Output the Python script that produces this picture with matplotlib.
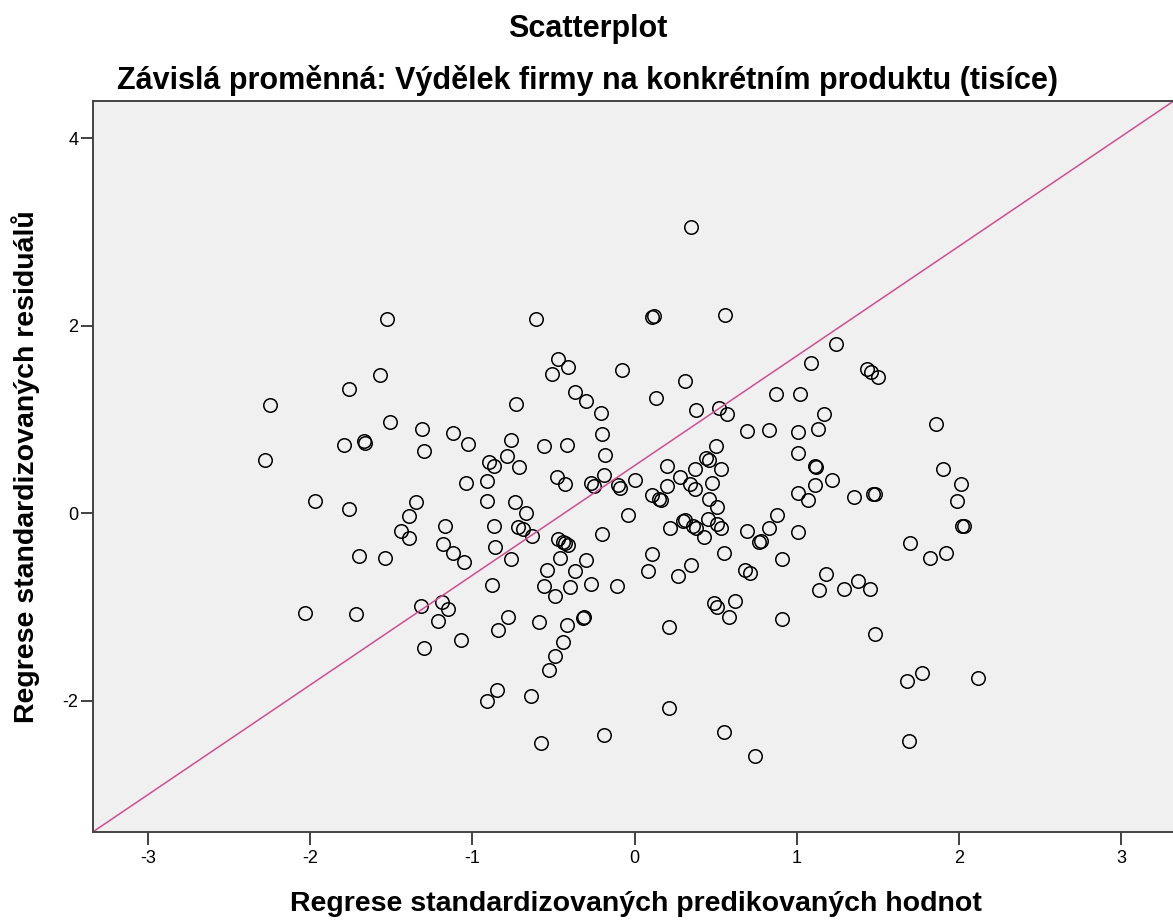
import matplotlib
matplotlib.use("Agg")
import matplotlib.pyplot as plt

matplotlib.rcParams["font.family"] = ["Liberation Sans", "DejaVu Sans"]
matplotlib.rcParams["axes.unicode_minus"] = False

# standardized predicted values (x) and standardized residuals (y)
pred_std = [
    -1.53, -0.61, -1.57, -1.76, -2.25, -0.73, -1.51, -1.31, -1.12, -1.03,
    -0.76, -1.79, -1.67, -1.66, -1.30, -2.28, -0.90, -0.87, -0.79, -0.71,
    -0.91, -1.04, -1.97, -1.76, -1.35, -0.91, -0.74,
    0.35, 0.12, 0.11, 0.56, 1.24, 1.09, -0.47, -0.41, -0.51, -0.08,
    0.31, -0.37, -0.30, 0.13, -0.21, 0.38, 0.52, 0.57, 0.87, 1.02,
    1.17, -0.20, 0.69, 0.83, 1.01, 1.13, -0.56, -0.42, -0.18, 0.50,
    0.44, 0.46, 1.01, 1.11, 1.12, 0.20, 0.37, 0.53, 0.28, -0.19,
    -0.48, -0.43, -0.27, -0.25, -0.10, -0.09, 0.00, 0.34, 0.37, 0.48,
    1.22, 1.11, 1.01, 1.07, 0.20, 0.11, 0.16, 0.15, 0.46, 0.51,
    1.43, 1.46, 1.50, 1.86, 1.90, 2.01, 1.99, 1.35, 1.47, 1.48,
    -1.39, -1.44, -1.39, -1.17, -0.87, -0.72, -0.69, -0.63, -0.67, -1.70,
    -1.54, -1.18, -1.12, -1.05, -0.86, -0.76, -0.88, -1.32, -1.19, -1.15,
    -1.21, -2.03, -1.72, -1.30, -1.07, -0.78, -0.84, -0.59, -0.85, -0.91,
    -0.64, -0.58,
    -0.04, 0.88, 0.31, 0.30, 0.45, 0.51, 0.53, 0.36, 0.38, 0.22,
    0.43, 0.69, 0.83, 0.77, 0.78, 1.01, -0.47, -0.44, -0.41, -0.43,
    -0.20, -0.46, -0.54, -0.30, -0.37, -0.56, -0.40, -0.49, -0.27, -0.11,
    0.11, 0.08, 0.35, 0.27, 0.55, 0.91, 0.68, 0.71, 1.18, 1.14,
    0.49, 0.51, 0.62, 0.58, 0.91, -0.32, -0.31, -0.42, -0.44, -0.49,
    -0.53, 0.21, 0.21, -0.19, 0.55, 0.74,
    2.03, 2.02, 1.70, 1.82, 1.92, 1.38, 1.29, 1.45, 1.48, 1.68,
    1.77, 2.12, 1.69,
]
resid_std = [
    2.07, 2.07, 1.48, 1.33, 1.16, 1.17, 0.97, 0.90, 0.86, 0.74,
    0.78, 0.73, 0.77, 0.75, 0.67, 0.57, 0.55, 0.51, 0.61, 0.49,
    0.34, 0.32, 0.13, 0.05, 0.12, 0.13, 0.12,
    3.06, 2.11, 2.10, 2.12, 1.81, 1.60, 1.65, 1.56, 1.49, 1.53,
    1.41, 1.30, 1.20, 1.23, 1.07, 1.10, 1.12, 1.06, 1.27, 1.27,
    1.06, 0.85, 0.88, 0.89, 0.87, 0.90, 0.72, 0.73, 0.62, 0.72,
    0.59, 0.57, 0.64, 0.50, 0.49, 0.50, 0.47, 0.47, 0.39, 0.41,
    0.39, 0.31, 0.32, 0.29, 0.30, 0.27, 0.36, 0.31, 0.26, 0.32,
    0.36, 0.30, 0.22, 0.14, 0.29, 0.20, 0.14, 0.15, 0.15, 0.07,
    1.54, 1.51, 1.45, 0.95, 0.47, 0.31, 0.13, 0.17, 0.21, 0.21,
    -0.03, -0.19, -0.26, -0.14, -0.13, -0.15, -0.17, -0.24, 0.00, -0.46,
    -0.48, -0.33, -0.42, -0.52, -0.36, -0.49, -0.76, -0.99, -0.95, -1.02,
    -1.15, -1.06, -1.07, -1.44, -1.35, -1.11, -1.24, -1.16, -1.88, -2.00,
    -1.95, -2.45,
    -0.02, -0.02, -0.07, -0.08, -0.06, -0.11, -0.16, -0.13, -0.16, -0.16,
    -0.25, -0.19, -0.16, -0.31, -0.30, -0.20, -0.27, -0.31, -0.34, -0.32,
    -0.22, -0.48, -0.60, -0.50, -0.62, -0.77, -0.79, -0.88, -0.75, -0.77,
    -0.43, -0.61, -0.55, -0.67, -0.42, -0.49, -0.60, -0.64, -0.65, -0.82,
    -0.96, -1.00, -0.93, -1.11, -1.13, -1.12, -1.11, -1.19, -1.37, -1.52,
    -1.67, -1.21, -2.08, -2.36, -2.33, -2.59,
    -0.14, -0.13, -0.32, -0.48, -0.42, -0.72, -0.81, -0.81, -1.29, -1.79,
    -1.70, -1.76, -2.43,
]

# reference line drawn by SPSS
line_intercept = 0.51
line_slope = 1.17

x_ticks = [-3, -2, -1, 0, 1, 2, 3]
y_ticks = [-2, 0, 2, 4]

fig = plt.figure(figsize=(11.73, 9.22), dpi=100)
ax = fig.add_axes([0.0793, 0.0976, 0.9207, 0.7929])
ax.set_facecolor("#f0f0f0")

ax.plot(pred_std, resid_std, linestyle="none", marker="o", markersize=9.7,
        markerfacecolor="none", markeredgecolor="black", markeredgewidth=1.1)
ax.axline((0, line_intercept), slope=line_slope, color="#cf4f8e", linewidth=1.1)

ax.set_xlim(-3.34, 3.32)
ax.set_ylim(-3.40, 4.40)
ax.set_xticks(x_ticks)
ax.set_yticks(y_ticks)
ax.tick_params(axis="both", direction="out", length=9, width=1.3, labelsize=13,
               color="#333333")
ax.tick_params(axis="x", pad=4)
ax.tick_params(axis="y", pad=1.5)
ax.spines["right"].set_visible(False)
for side in ["left", "bottom", "top"]:
    ax.spines[side].set_color("#444444")
    ax.spines[side].set_linewidth(1.4)

ax.set_xlabel("Regrese standardizovaných predikovaných hodnot",
              fontsize=20.5, fontweight="bold")
ax.xaxis.set_label_coords(0.503, -0.098)
ax.xaxis.label.set_va("center")
ax.set_ylabel("Regrese standardizovaných residuálů",
              fontsize=20.5, fontweight="bold")
ax.yaxis.set_label_coords(-0.062, 0.5)
ax.yaxis.label.set_va("center")

fig.text(0.501, 0.969, "Scatterplot", ha="center", va="center",
         fontsize=22, fontweight="bold")
fig.text(0.501, 0.913, "Závislá proměnná: Výdělek firmy na konkrétním produktu (tisíce)",
         ha="center", va="center", fontsize=22, fontweight="bold")

fig.savefig("out.png", dpi=100)
